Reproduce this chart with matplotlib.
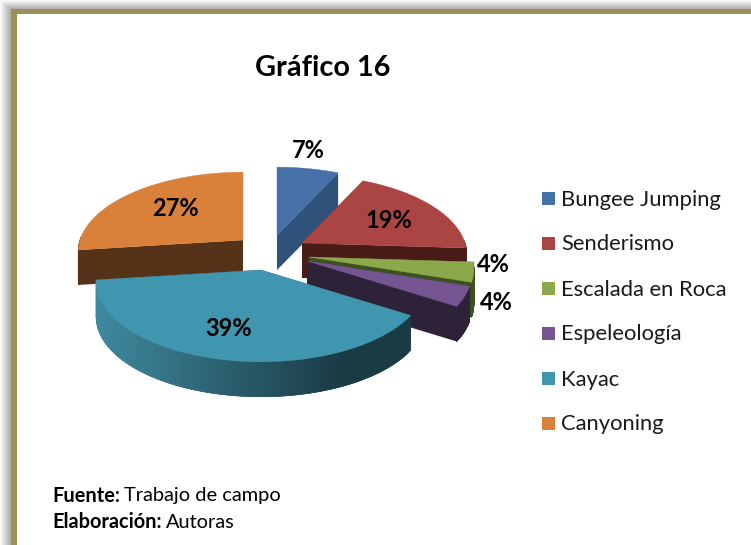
import numpy as np
import matplotlib
matplotlib.use('Agg')
import matplotlib.pyplot as plt
from matplotlib.colors import to_rgb
from matplotlib.patches import Polygon, Rectangle

categorias = ['Bungee Jumping', 'Senderismo', 'Escalada en Roca', 'Espeleología', 'Kayac', 'Canyoning']
valores = [7, 19, 4, 4, 39, 27]
etiquetas = ['7%', '19%', '4%', '4%', '39%', '27%']

#Colores de cara superior y de pared (izquierda, derecha)
col_top = ['#4570A8', '#AB4543', '#8BA84B', '#755492', '#4096AE', '#D9803A']
col_izq = ['#2F527A', '#4A1C18', '#3F5020', '#2E2238', '#3F8A9F', '#553218']
col_der = ['#2F527A', '#4A1C18', '#3F5020', '#2E2238', '#1A3A44', '#553218']

#Vertice de cada porcion ya separada, en pixeles
vertices = [(277, 235), (302, 243), (309, 257), (307, 261), (261, 270), (243, 240)]
pos_etq = [(308, 150), (389, 221), (493, 264), (496, 302), (229, 328), (175, 208)]
orden = [5, 0, 1, 2, 3, 4]

RX, RY, K, PROF = 163, 78, 0.15, 35

plt.rcParams['font.family'] = ['Lato', 'DejaVu Sans']
fig = plt.figure(figsize=(7.51, 5.45), dpi=100)
ax = fig.add_axes([0, 0, 1, 1])
ax.set_xlim(0, 751)
ax.set_ylim(545, 0)
ax.axis('off')

#Sombra gris y marco
yy, xx = np.mgrid[0:545, 0:751]
g = np.clip(np.minimum(xx / 11, yy / 9), 0, 1)
ax.imshow(250 - 85 * g, cmap='gray', vmin=0, vmax=255, extent=(0, 751, 545, 0), aspect='auto', zorder=0)
ax.add_patch(Rectangle((11, 9), 760, 560, fc='#9A9159', ec='none', zorder=1))
ax.add_patch(Rectangle((17, 14), 760, 560, fc='white', ec='none', zorder=1))

#Proyeccion con perspectiva de un punto del disco
def proy(t, vx, vy):
  x, y = np.cos(np.radians(t)), np.sin(np.radians(t))
  d = 1 + K * y
  return vx + RX * x / d, vy - RY * y / d

angs = 90 - np.cumsum([0] + valores) * 3.6
for i in orden:
  ini, fin = angs[i], angs[i + 1]
  vx, vy = vertices[i]
  c1, c2 = np.array(to_rgb(col_izq[i])), np.array(to_rgb(col_der[i]))
  #Caras de los cortes
  for a in (ini, fin):
    ex, ey = proy(a, vx, vy)
    ax.add_patch(Polygon([(vx, vy), (ex, ey), (ex, ey + PROF), (vx, vy + PROF)],
                         fc=col_der[i], ec='none', zorder=3))
  #Pared exterior (solo la parte delantera)
  ts = np.linspace(ini, fin, 90)
  xs, ys = proy(ts, vx, vy)
  for j in range(len(ts) - 1):
    if np.sin(np.radians(ts[j])) > 0.02 and np.sin(np.radians(ts[j + 1])) > 0.02:
      continue
    n = min(j + 2, len(ts) - 1)
    f = np.clip((xs[j] - 96) / 250, 0, 1) if i == 4 else 0
    c = c1 + (c2 - c1) * f
    ax.add_patch(Polygon([(xs[j], ys[j]), (xs[n], ys[n]), (xs[n], ys[n] + PROF), (xs[j], ys[j] + PROF)],
                         fc=c, ec=c, lw=0.4, zorder=3))
  #Cara superior
  ax.add_patch(Polygon([(vx, vy)] + list(zip(xs, ys)), fc=col_top[i], ec=col_top[i], lw=0.3, zorder=3))

for lab, (x, y) in zip(etiquetas, pos_etq):
  ax.text(x, y, lab, fontsize=17, fontweight='bold', color='black', ha='center', va='center', zorder=5)

ax.text(323, 68, 'Gráfico 16', fontsize=20.8, fontweight='bold', ha='center', va='center', zorder=5)

#Leyenda
for k, nombre in enumerate(categorias):
  y = 198 + 45 * k
  ax.add_patch(Rectangle((542, y - 6.5), 13, 13, fc=col_top[k], ec='none', zorder=5))
  ax.text(561, y + 1.5, nombre, fontsize=15.8, color='#1a1a1a', ha='left', va='center', zorder=5)

#Fuente
ax.text(52, 496, 'Fuente:', fontsize=14.4, fontweight='bold', va='center', zorder=5)
ax.text(124, 496, 'Trabajo de campo', fontsize=14.4, va='center', zorder=5)
ax.text(52, 522, 'Elaboración:', fontsize=14.4, fontweight='bold', va='center', zorder=5)
ax.text(166, 522, 'Autoras', fontsize=14.4, va='center', zorder=5)

fig.savefig('out.png', dpi=100)
